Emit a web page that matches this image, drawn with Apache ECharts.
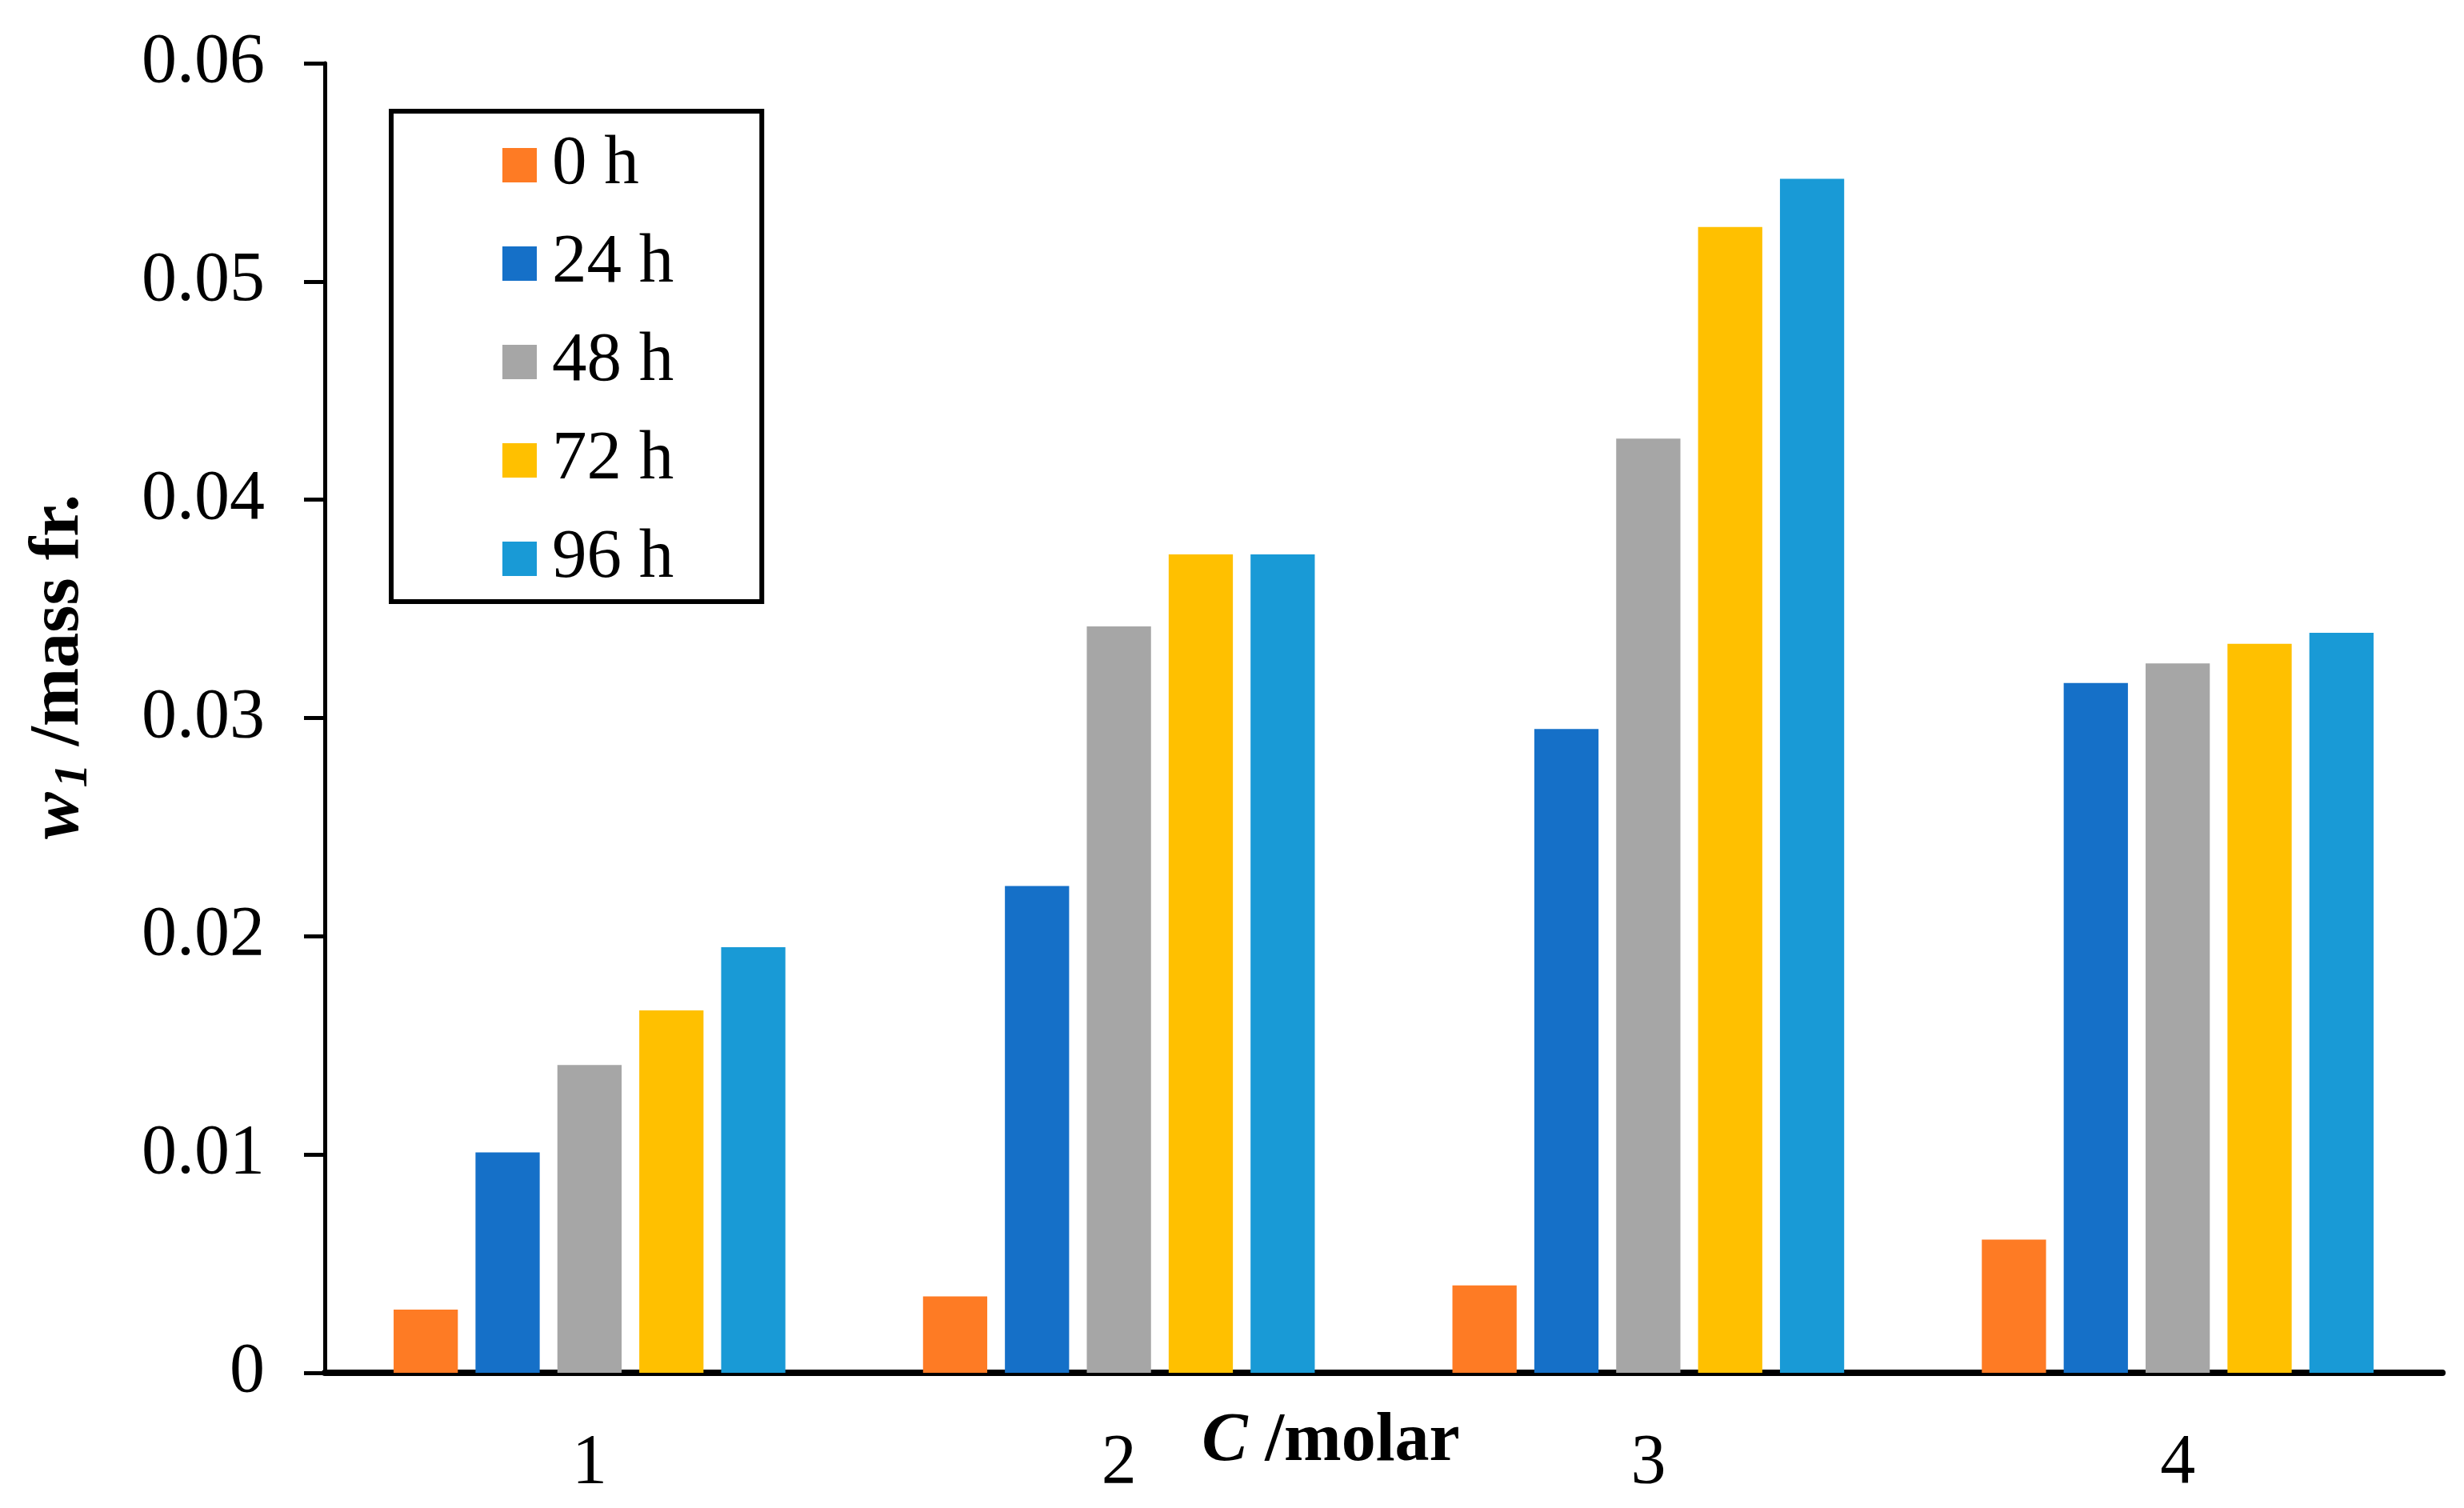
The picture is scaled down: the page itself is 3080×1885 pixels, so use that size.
<!DOCTYPE html>
<html>
<head>
<meta charset="utf-8">
<script src="https://cdn.jsdelivr.net/npm/echarts@6/dist/echarts.min.js"></script>
<style>html,body{margin:0;padding:0;background:#fff;}#c{width:3080px;height:1885px;}</style>
</head>
<body>
<div id="c"></div>
<script>
const categories = ['1', '2', '3', '4'];
const seriesNames = ['0 h', '24 h', '48 h', '72 h', '96 h'];
const s0h = [0.0029, 0.0035, 0.0040, 0.0061];
const s24h = [0.0101, 0.0223, 0.0295, 0.0316];
const s48h = [0.0141, 0.0342, 0.0428, 0.0325];
const s72h = [0.0166, 0.0375, 0.0525, 0.0334];
const s96h = [0.0195, 0.0375, 0.0547, 0.0339];
const colors = ['#FE7B24', '#1570C8', '#A6A6A6', '#FFC000', '#199AD6'];
const yTicks = [0, 0.01, 0.02, 0.03, 0.04, 0.05, 0.06];

const FONT = 'Liberation Serif';
const seriesData = [s0h, s24h, s48h, s72h, s96h];

const chart = echarts.init(document.getElementById('c'), null, {renderer: 'canvas'});
chart.setOption({
  backgroundColor: '#ffffff',
  animation: false,
  grid: {left: 406, right: 27, top: 79, bottom: 169, containLabel: false, outerBoundsMode: 'none'},
  legend: {
    orient: 'vertical',
    left: 489,
    top: 139,
    itemWidth: 43,
    itemHeight: 43,
    itemGap: 36,
    icon: 'rect',
    borderColor: '#000',
    borderWidth: 6,
    padding: [24, 110, 10, 139],
    data: seriesNames,
    textStyle: {fontFamily: FONT, fontSize: 87, color: '#000', lineHeight: 86, padding: [0, 0, 0, 14]}
  },
  xAxis: {
    type: 'category',
    data: categories,
    axisLine: {lineStyle: {color: '#000', width: 8}},
    axisTick: {show: false},
    axisLabel: {fontFamily: FONT, fontSize: 88, color: '#000', margin: 70},
    name: '{i|C}{b| /molar}',
    nameLocation: 'middle',
    nameGap: 44,
    nameMoveOverlap: false,
    nameTextStyle: {
      padding: [0, 132, 0, 0],
      rich: {
        i: {fontFamily: FONT, fontSize: 86, fontWeight: 'bold', fontStyle: 'italic', color: '#000'},
        b: {fontFamily: FONT, fontSize: 86, fontWeight: 'bold', color: '#000'}
      }
    }
  },
  yAxis: {
    type: 'value',
    min: 0,
    max: 0.06,
    interval: 0.01,
    axisLine: {show: true, lineStyle: {color: '#000', width: 5}},
    axisTick: {show: true, inside: false, length: 26, lineStyle: {color: '#000', width: 5}},
    splitLine: {show: false},
    axisLabel: {
      fontFamily: FONT, fontSize: 88, color: '#000', margin: 75,
      formatter: function (v) { const t = yTicks.find(x => Math.abs(x - v) < 1e-9); return t === undefined ? '' : String(t); }
    },
    name: '{i|w}{s|1}{b| /mass fr.}',
    nameLocation: 'middle',
    nameRotate: 90,
    nameGap: 284,
    nameMoveOverlap: false,
    nameTextStyle: {
      padding: [0, 0, 0, 128],
      rich: {
        i: {fontFamily: FONT, fontSize: 88, fontWeight: 'bold', fontStyle: 'italic', color: '#000'},
        s: {fontFamily: FONT, fontSize: 60, fontWeight: 'bold', fontStyle: 'italic', color: '#000', padding: [36, 0, 0, 6]},
        b: {fontFamily: FONT, fontSize: 88, fontWeight: 'bold', color: '#000'}
      }
    }
  },
  series: seriesNames.map((name, i) => ({
    name: name,
    type: 'bar',
    data: seriesData[i],
    barGap: '27.5%',
    barCategoryGap: '26%',
    itemStyle: {color: colors[i]}
  }))
});
</script>
</body>
</html>
